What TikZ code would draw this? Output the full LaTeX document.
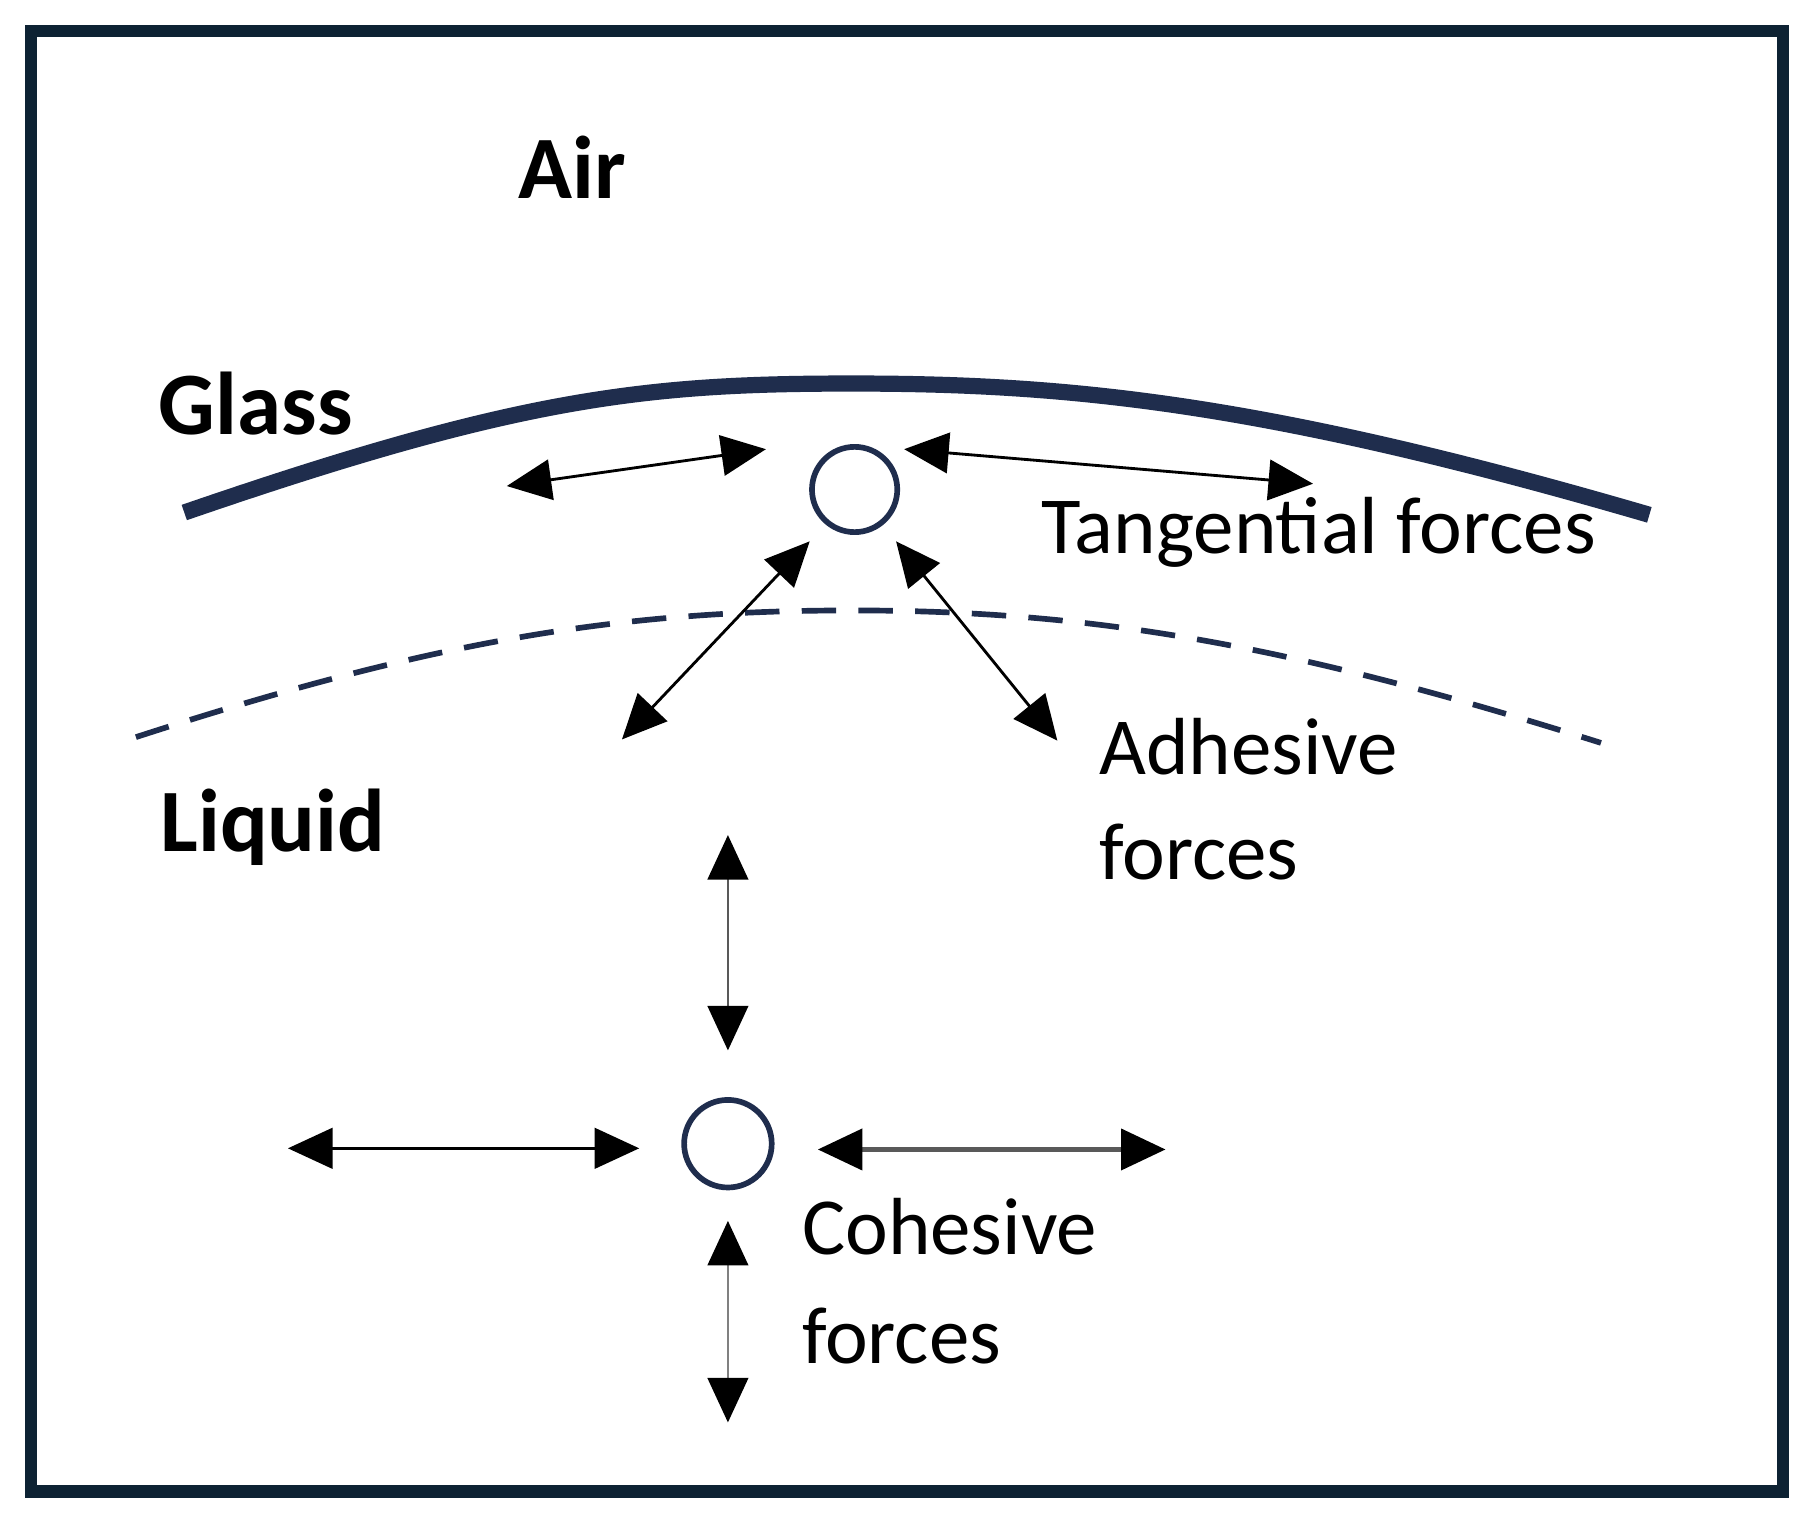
\documentclass[tikz,border=0pt]{standalone}
\usepackage{fontspec}
\setmainfont{Carlito}
\usetikzlibrary{arrows.meta}
\begin{document}
\begin{tikzpicture}[x=0.01cm,y=-0.01cm,
  dbl/.style={{Triangle[length=11pt,width=10pt,fill=black,color=black]}-{Triangle[length=11pt,width=10pt,fill=black,color=black]},line width=0.7pt,black},
  lbl/.style={font=\fontsize{20pt}{24pt}\selectfont},
  blbl/.style={font=\fontsize{22pt}{26pt}\selectfont\bfseries}]
\definecolor{navy}{HTML}{1F2D4D}
\definecolor{frame}{HTML}{0D2233}
\useasboundingbox (0,0) rectangle (1568,1316);
\fill[white] (0,0) rectangle (1568,1316);
\draw[frame,line width=3pt] (27,27) rectangle (1548,1295);
\draw[navy,line width=4pt] (160,445) .. controls (450,345) and (560,333) .. (740,333) .. controls (930,333) and (1100,350) .. (1432,447);
\draw[navy,line width=1.4pt,dash pattern=on 8.5pt off 5.5pt] (118,640) .. controls (380,555) and (540,530) .. (740,530) .. controls (950,530) and (1120,560) .. (1390,645);
\node[circle,draw=navy,line width=1.4pt,minimum size=0.74cm,inner sep=0pt] (c1) at (742,425) {};
\node[circle,draw=navy,line width=1.4pt,minimum size=0.76cm,inner sep=0pt] (c2) at (632,993) {};
\coordinate (a1) at (440,422); \coordinate (a2) at (665,390);
\coordinate (b1) at (785,390); \coordinate (b2) at (1140,420);
\coordinate (d1) at (540,642); \coordinate (d2) at (703,470);
\coordinate (e1) at (778,470); \coordinate (e2) at (918,643);
\coordinate (f1) at (632,725); \coordinate (f2) at (632,912);
\coordinate (g1) at (250,997); \coordinate (g2) at (555,997);
\coordinate (h1) at (710,998); \coordinate (h2) at (1012,998);
\coordinate (i1) at (632,1060); \coordinate (i2) at (632,1235);
\draw[dbl] (a1) -- (a2);
\draw[dbl] (b1) -- (b2);
\draw[dbl] (d1) -- (d2);
\draw[dbl] (e1) -- (e2);
\draw[dbl,draw=gray!70!black] (f1) -- (f2);
\draw[dbl] (g1) -- (g2);
\draw[dbl,draw=gray!70!black,line width=1.4pt] (h1) -- (h2);
\draw[dbl,draw=gray] (i1) -- (i2);
\node[blbl] (air) at (497,145) {Air};
\node[blbl] (glass) at (222,350) {Glass};
\node[blbl] (liq) at (237,718) {Liquid};
\node[lbl] (tan) at (1145,462) {Tangential forces};
\node[lbl,anchor=west] (adh) at (942,648) {Adhesive};
\node[lbl,anchor=west] (adh2) at (942,740) {forces};
\node[lbl,anchor=west] (coh) at (684,1065) {Cohesive};
\node[lbl,anchor=west] (coh2) at (684,1160) {forces};
\end{tikzpicture}
\end{document}
